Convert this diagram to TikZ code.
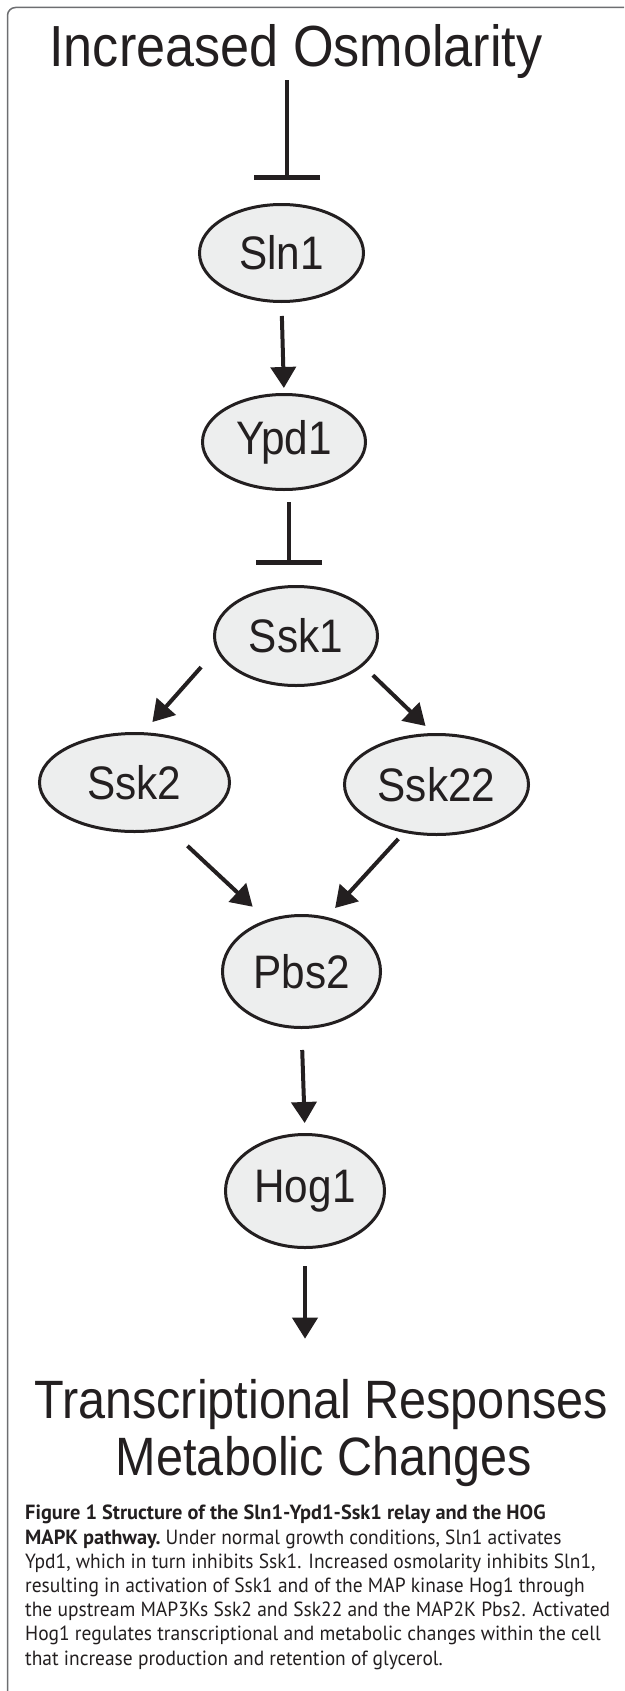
\documentclass[tikz,border=0pt]{standalone}
\usepackage{fontspec}
\usepackage{graphicx}
\usetikzlibrary{arrows.meta,positioning,shapes.geometric}

\newfontfamily\figfont{Liberation Sans}[FakeStretch=0.9]
\newfontfamily\capfont{PT Sans}[FakeStretch=0.95]
\newcommand\capbold[1]{\scalebox{1.045}[1]{\bfseries #1}}

\definecolor{ink}{HTML}{231F20}
\definecolor{protfill}{HTML}{EDEEEE}
\definecolor{framegray}{HTML}{6D6E71}

\begin{document}
\begin{tikzpicture}[
  x=1pt, y=1pt,
  every node/.style={text=ink},
  prot/.style={ellipse, draw=ink, line width=3pt, fill=protfill, inner sep=0pt,
    font=\figfont\fontsize{47}{50}\selectfont},
  bigtext/.style={inner sep=0pt, anchor=base, font=\figfont\fontsize{#1}{#1}\selectfont},
  arrow/.style={-{Triangle[length=21pt, width=25pt]}, line width=4pt, draw=ink},
  inhibit/.style={-{Bar[width=66pt]}, line width=4.5pt, draw=ink},
]
\useasboundingbox (0,0) rectangle (624,-1691);

% -- frame --
\draw[framegray, line width=1.5pt, rounded corners=8pt] (7.5,-1691) |- (624,-7.5);

% -- stimulus --
\node[bigtext=58] (osmo) at (296,-67) {Increased Osmolarity};

% -- relay --
\node[prot, minimum width=164pt, minimum height=97pt] (sln1) at (281.5,-253) {Sln1};
\node[prot, minimum width=163pt, minimum height=95pt, below=90pt of sln1, xshift=2.5pt] (ypd1) {Ypd1};
\node[prot, minimum width=163pt, minimum height=99pt, below=94pt of ypd1, xshift=12pt] (ssk1) {Ssk1};

% -- MAPK cascade --
\node[prot, minimum width=190pt, minimum height=98pt] (ssk2) at (134.5,-782.5) {Ssk2};
\node[prot, minimum width=184pt, minimum height=100pt] (ssk22) at (436.5,-784.5) {Ssk22};
\node[prot, minimum width=158pt, minimum height=112pt] (pbs2) at (301.5,-971.5) {Pbs2};
\node[prot, minimum width=159pt, minimum height=113pt, below=104pt of pbs2, xshift=3.5pt] (hog1) {Hog1};

% -- output --
\node[bigtext=54] (resp) at (321,-1418) {Transcriptional Responses};
\node[bigtext=54] (meta) at (324,-1475) {Metabolic Changes};

% -- caption (anchored on its last line) --
\node[anchor=base west, inner sep=0pt, align=left, font=\capfont\fontsize{20.5}{24.2}\selectfont] (caption) at (25,-1665)
  {\capbold{Figure 1 Structure of the Sln1-Ypd1-Ssk1 relay and the HOG}\\
   \capbold{MAPK pathway.} Under normal growth conditions, Sln1 activates\\
   Ypd1, which in turn inhibits Ssk1. Increased osmolarity inhibits Sln1,\\
   resulting in activation of Ssk1 and of the MAP kinase Hog1 through\\
   the upstream MAP3Ks Ssk2 and Ssk22 and the MAP2K Pbs2. Activated\\
   Hog1 regulates transcriptional and metabolic changes within the cell\\
   that increase production and retention of glycerol.};

% -- connections --
\draw[inhibit, shorten <=1pt, shorten >=23.5pt] ([xshift=-9pt]osmo.south) -- ([xshift=5.5pt]sln1.north);
\draw[arrow, shorten <=13pt, shorten >=5pt] (sln1.south) -- (ypd1.north);
\draw[inhibit, shorten <=11pt, shorten >=20.5pt] ([xshift=5pt]ypd1.south) -- ([xshift=-7pt]ssk1.north);

\draw[arrow, shorten <=22.8pt, shorten >=13.6pt] (ssk1.190) -- (ssk2.80.4);
\draw[arrow, shorten <=13.4pt, shorten >=10.2pt] (ssk1.-24.9) -- (ssk22.94.6);
\draw[arrow, shorten <=24pt, shorten >=19pt] (ssk2.-53.4) -- (pbs2.124.6);
\draw[arrow, shorten <=8.3pt, shorten >=12.1pt] (ssk22.236.6) -- (pbs2.65.1);

\draw[arrow, shorten <=21pt, shorten >=10pt] (pbs2.south) -- (hog1.north);
\draw[arrow, shorten <=17pt, shorten >=40pt] (hog1.south) -- (hog1.south |- resp.north);

\end{tikzpicture}
\end{document}
